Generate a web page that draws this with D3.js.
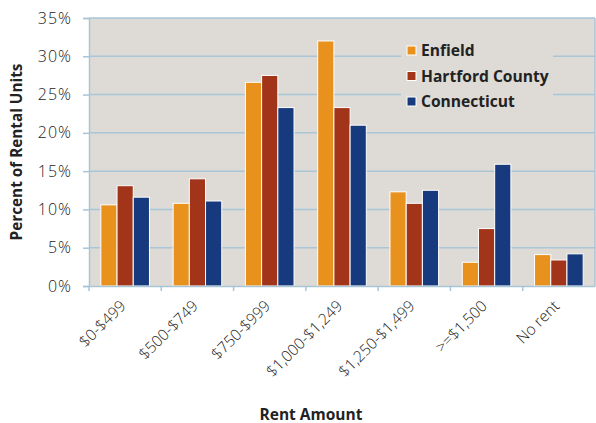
<!DOCTYPE html>
<html>
<head>
<meta charset="utf-8">
<script src="https://cdn.jsdelivr.net/npm/d3@7"></script>
<style>
  body { margin: 0; background: #fff; }
  svg { display: block; }
  text { font-family: "Open Sans", "Noto Sans", sans-serif; fill: #222; }
</style>
</head>
<body>
<script>
const categories = ["$0-$499", "$500-$749", "$750-$999", "$1,000-$1,249", "$1,250-$1,499", ">=$1,500", "No rent"];
const seriesNames = ["Enfield", "Hartford County", "Connecticut"];
const enfield = [10.6, 10.8, 26.6, 32.0, 12.3, 3.1, 4.1];
const hartford = [13.1, 14.0, 27.5, 23.3, 10.8, 7.5, 3.4];
const connecticut = [11.6, 11.1, 23.3, 21.0, 12.5, 15.9, 4.2];
const yTicks = [0, 5, 10, 15, 20, 25, 30, 35];

const colors = ["#E8911D", "#A23419", "#163A7D"];
const seriesValues = [enfield, hartford, connecticut];

const W = 596, H = 423;
const plotL = 89, plotR = 595, plotT = 18, plotB = 286;
const gridColor = "#A9C5D8";

const svg = d3.select("body").append("svg").attr("width", W).attr("height", H);

const x0 = d3.scaleBand().domain(categories).range([plotL, plotR]);
const x1 = d3.scaleBand().domain(seriesNames).range([0, x0.bandwidth()]).paddingOuter(0.73);
const y = d3.scaleLinear().domain([0, 35]).range([plotB, plotT]);

// plot background
svg.append("rect")
  .attr("x", plotL).attr("y", plotT)
  .attr("width", plotR - plotL).attr("height", plotB - plotT)
  .attr("fill", "#DEDAD5");

// gridlines
svg.append("g")
  .selectAll("line")
  .data(yTicks.slice(1))
  .enter()
  .append("line")
  .attr("x1", plotL).attr("x2", plotR)
  .attr("y1", d => y(d)).attr("y2", d => y(d))
  .attr("stroke", gridColor).attr("stroke-width", 1.5);

// right border
svg.append("line")
  .attr("x1", plotR).attr("x2", plotR).attr("y1", plotT).attr("y2", plotB)
  .attr("stroke", gridColor).attr("stroke-width", 1.5);

// legend box hides gridlines
svg.append("rect")
  .attr("x", 401).attr("y", 32).attr("width", 152).attr("height", 84)
  .attr("fill", "#DEDAD5");

// bars
const groups = svg.append("g")
  .selectAll("g")
  .data(categories)
  .enter()
  .append("g")
  .attr("transform", d => `translate(${x0(d)},0)`);

groups.selectAll("rect")
  .data((d, i) => seriesNames.map((s, j) => ({ s, v: seriesValues[j][i], j })))
  .enter()
  .append("rect")
  .attr("x", d => x1(d.s))
  .attr("width", x1.bandwidth())
  .attr("y", d => y(d.v))
  .attr("height", d => plotB - y(d.v))
  .attr("fill", d => colors[d.j])
  .attr("stroke", "#fff")
  .attr("stroke-width", 1);

// y axis
const yAxis = svg.append("g")
  .attr("transform", `translate(${plotL},0)`)
  .call(d3.axisLeft(y).tickValues(yTicks).tickFormat(d => d + "%").tickSize(6).tickPadding(11));
yAxis.select(".domain").attr("stroke", gridColor).attr("stroke-width", 1.5);
yAxis.selectAll(".tick line").attr("stroke", gridColor).attr("stroke-width", 1.5);
yAxis.selectAll(".tick text")
  .attr("font-size", 16)
  .attr("font-weight", 300)
  .attr("letter-spacing", 1)
  .style("font-family", "'Open Sans', sans-serif")
  .attr("fill", "#333");

// x axis
const xAxis = svg.append("g")
  .attr("transform", `translate(0,${plotB})`)
  .call(d3.axisBottom(x0).tickSize(0).tickFormat(""));
xAxis.select(".domain").attr("stroke", gridColor).attr("stroke-width", 1.5);

const boundaries = categories.map(c => x0(c));
svg.append("g")
  .selectAll("line")
  .data(boundaries)
  .enter()
  .append("line")
  .attr("x1", d => d).attr("x2", d => d)
  .attr("y1", plotB).attr("y2", plotB + 5)
  .attr("stroke", gridColor).attr("stroke-width", 1.5);

svg.append("g")
  .selectAll("text")
  .data(categories)
  .enter()
  .append("text")
  .attr("text-anchor", "end")
  .attr("font-size", 15.5)
  .attr("font-weight", 300)
  .attr("fill", "#333")
  .attr("transform", d => `translate(${x0(d) + x0.bandwidth() / 2 + 1.5},${plotB + 21}) rotate(-45)`)
  .text(d => d);

// axis titles
svg.append("text")
  .attr("text-anchor", "middle")
  .attr("font-size", 15.3)
  .attr("font-weight", 700)
  .attr("transform", `translate(22,${(plotT + plotB) / 2}) rotate(-90)`)
  .text("Percent of Rental Units");

svg.append("text")
  .attr("text-anchor", "middle")
  .attr("font-size", 15.5)
  .attr("font-weight", 700)
  .attr("x", 311).attr("y", 420)
  .text("Rent Amount");

// legend
const legend = svg.append("g")
  .selectAll("g")
  .data(seriesNames)
  .enter()
  .append("g")
  .attr("transform", (d, i) => `translate(407,${46 + i * 25.5})`);

legend.append("rect")
  .attr("width", 9).attr("height", 9)
  .attr("fill", (d, i) => colors[i])
  .attr("stroke", "#fff").attr("stroke-width", 1);

legend.append("text")
  .attr("x", 14).attr("y", 10)
  .attr("font-size", 15.6)
  .attr("font-weight", 700)
  .attr("fill", "#111")
  .text(d => d);
</script>
</body>
</html>
